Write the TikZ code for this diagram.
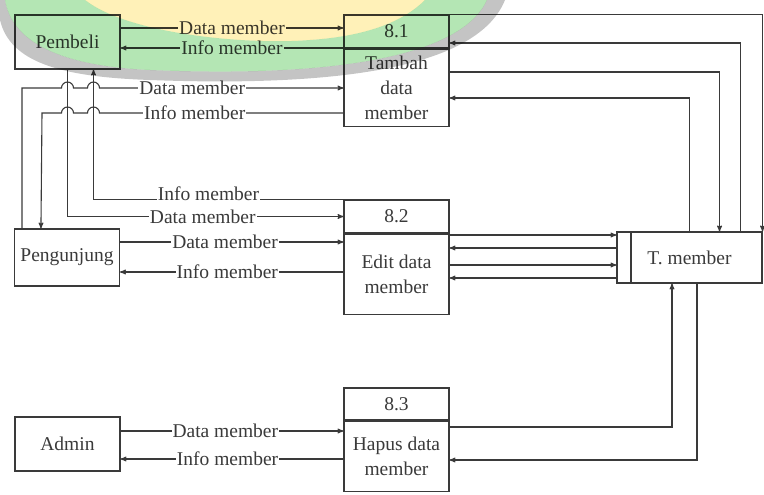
\documentclass[tikz,border=0pt]{standalone}
\usepackage{fontspec}
\setmainfont{Liberation Serif}
\usepackage{tikz}
\usetikzlibrary{arrows,positioning}
\definecolor{lineclr}{HTML}{3A3A3A}
\definecolor{wmgreen}{HTML}{B4E6B4}
\definecolor{wmyellow}{HTML}{FFF1B8}
\definecolor{wmgray}{HTML}{C4C4C4}
\tikzset{
    %Define standard arrow tip
    >=stealth',
    %Define style for boxes
    entity/.style={
           rectangle,
           draw=lineclr, line width=1.1pt,
           minimum width=105pt,
           minimum height=54pt,
           inner sep=0pt,
           text centered},
    procid/.style={
           rectangle,
           draw=lineclr, line width=1.1pt,
           minimum width=105pt,
           minimum height=33pt,
           inner sep=0pt,
           text centered},
    procbody/.style={
           rectangle,
           draw=lineclr, line width=1.1pt,
           minimum width=105pt,
           inner sep=0pt,
           align=center},
    store/.style={
           rectangle,
           draw=lineclr, line width=1.1pt,
           minimum width=145pt,
           minimum height=51pt,
           inner sep=0pt},
    % Define arrow style
    flow/.style={
           ->,
           draw=lineclr,
           line width=1.1pt},
    lbl/.style={
           fill=white,
           inner sep=1pt}
}
\begin{document}
\begin{tikzpicture}[x=1pt,y=-1pt,font=\fontsize{19.5}{25}\selectfont,text=lineclr]
\useasboundingbox (0,0) rectangle (764,495);
 %nodes
\node[entity] (pem) at (67.5,42) {Pembeli};
\node[entity, minimum height=57pt] (peng) at (67,257.5) {Pengunjung};
\node[entity] (adm) at (67.5,444) {Admin};
\node[procid] (p1id) at (396.5,31.5) {8.1};
\node[procbody, below=0pt of p1id, minimum height=77pt] (p1) {Tambah\\data\\member};
\node[procid] (p2id) at (396.5,216.5) {8.2};
\node[procbody, below=0pt of p2id, minimum height=80pt] (p2) {Edit data\\member};
\node[procid, minimum height=32pt] (p3id) at (396.5,404) {8.3};
\node[procbody, below=0pt of p3id, minimum height=70pt] (p3) {Hapus data\\member};
\node[store] (tm) at (689.5,257.5) {T. member};
\node[store, minimum width=14pt, anchor=west] (tmcap) at (tm.west) {};
 %flows 8.1
\draw[flow] (pem.east |- 0,28) -- (p1id.west |- 0,28) node[lbl,pos=0.5]{Data member};
\draw[flow] (p1id.west |- 0,48) -- (pem.east |- 0,48) node[lbl,pos=0.5]{Info member};
\draw[flow] ([xshift=8pt]peng.north west) |- (61.5,88)
    arc[start angle=180,end angle=0,radius=6pt] -- (87.5,88)
    arc[start angle=180,end angle=0,radius=6pt] -- (p1.west |- 0,88)
    node[lbl,pos=0.38]{Data member};
\draw[flow] (p1.west |- 0,113) -- (99.5,113) node[lbl,pos=0.61]{Info member}
    arc[start angle=0,end angle=180,radius=6pt] -- (73.5,113)
    arc[start angle=0,end angle=180,radius=6pt] -- (42,113)
    -- ([xshift=27pt]peng.north west);
 %flows 8.2
\draw[flow] (p2id.north west) -| ([xshift=26pt]pem.south) node[lbl,pos=0.27,yshift=6pt]{Info member};
\draw[flow] (pem.south) |- (p2id.west) node[lbl,pos=0.745]{Data member};
\draw[flow] (peng.east |- 0,242) -- (p2.west |- 0,242) node[lbl,pos=0.47]{Data member};
\draw[flow] (p2.west |- 0,272) -- (peng.east |- 0,272) node[lbl,pos=0.52]{Info member};
 %flows 8.3
\draw[flow] (adm.east |- 0,431) -- (p3.west |- 0,431) node[lbl,pos=0.47]{Data member};
\draw[flow] (p3.west |- 0,459) -- (adm.east |- 0,459) node[lbl,pos=0.52]{Info member};
 %flows T. member
\draw[flow] (p1id.north east) -| (tm.north east);
\draw[flow] ([xshift=-22pt]tm.north east) |- (p1id.east |- 0,43);
\draw[flow] (p1.east |- 0,72) -| ([xshift=-43pt]tm.north east);
\draw[flow] ([xshift=-73pt]tm.north east) |- (p1.east |- 0,98);
\foreach \yy in {235,265}
    \draw[flow] (p2.east |- 0,\yy) -- (tm.west |- 0,\yy);
\foreach \yy in {248,278}
    \draw[flow] (tm.west |- 0,\yy) -- (p2.east |- 0,\yy);
\draw[flow] (p3.east |- 0,427) -| ([xshift=-17.5pt]tm.south);
\draw[flow] ([xshift=7.5pt]tm.south) |- (p3.east |- 0,460);
 %watermark
\begin{scope}[blend mode=multiply]
\fill[wmgray, even odd rule] (0,0) -- (0,20) .. controls (10,62) and (60,77) .. (150,80)
    .. controls (360,88) and (480,62) .. (505,0) -- cycle
    (5,0) .. controls (12,42) and (60,66) .. (150,70)
    .. controls (340,78) and (462,55) .. (487,0) -- cycle;
\fill[wmgreen, even odd rule] (5,0) .. controls (12,42) and (60,66) .. (150,70)
    .. controls (340,78) and (462,55) .. (487,0) -- cycle
    (85,0) .. controls (130,35) and (250,45) .. (310,40)
    .. controls (370,36) and (405,20) .. (425,0) -- cycle;
\fill[wmyellow] (85,0) .. controls (130,35) and (250,45) .. (310,40)
    .. controls (370,36) and (405,20) .. (425,0) -- cycle;
\end{scope}
\end{tikzpicture}
\end{document}
